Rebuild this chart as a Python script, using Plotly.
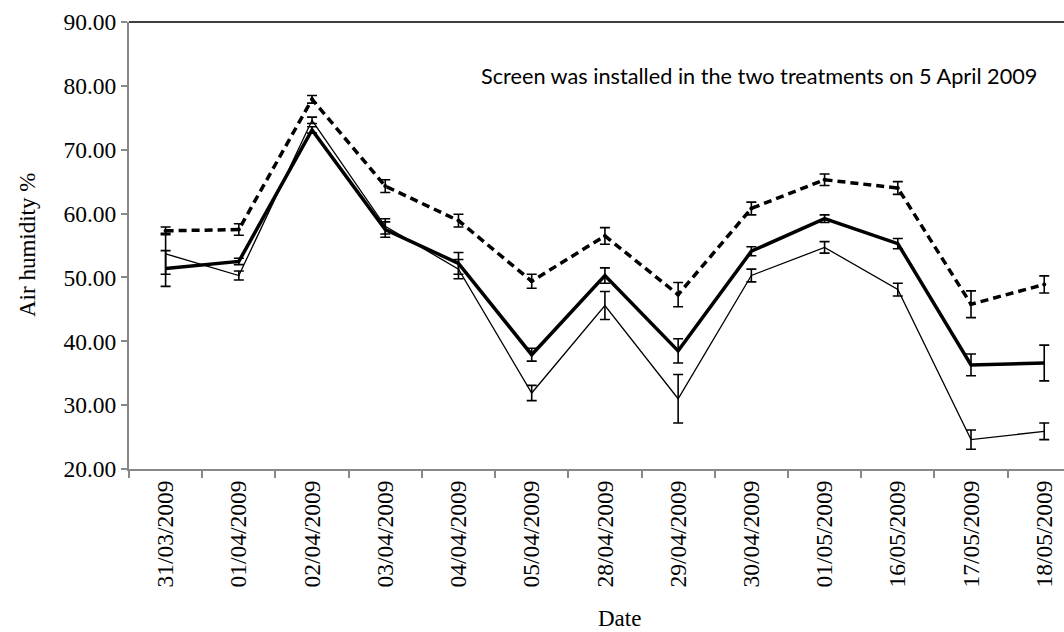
import plotly.graph_objects as go

# Sampling dates (categorical axis)
dates = ["31/03/2009", "01/04/2009", "02/04/2009", "03/04/2009", "04/04/2009",
         "05/04/2009", "28/04/2009", "29/04/2009", "30/04/2009", "01/05/2009",
         "16/05/2009", "17/05/2009", "18/05/2009"]

# Mean air humidity (%) and standard errors per series
dashed_vals = [57.3, 57.5, 77.9, 64.3, 58.9, 49.4, 56.5, 47.3, 60.8, 65.3, 64.0, 45.8, 48.9]
dashed_err = [0.6, 0.9, 0.6, 1.0, 1.0, 1.1, 1.3, 1.9, 1.0, 0.9, 1.0, 2.1, 1.35]

thick_vals = [51.4, 52.5, 73.1, 57.5, 52.2, 37.9, 50.3, 38.5, 54.1, 59.2, 55.3, 36.3, 36.6]
thick_err = [2.8, 0.5, 0.5, 1.2, 1.7, 1.0, 1.2, 1.9, 0.7, 0.6, 0.8, 1.7, 2.8]

thin_vals = [53.7, 50.3, 74.6, 58.0, 51.3, 31.9, 45.6, 31.0, 50.3, 54.7, 48.1, 24.6, 25.9]
thin_err = [3.2, 0.7, 0.5, 1.2, 1.5, 1.2, 2.2, 3.8, 1.0, 0.9, 1.0, 1.5, 1.3]

W, H = 1064, 632
L, T, B = 129, 22, 163
plot_w = W - L
plot_h = H - T - B


def px_x(px):
    return (px - L) / plot_w


def px_y(py):
    return (H - B - py) / plot_h


def err(vals):
    return dict(type="data", array=vals, visible=True, color="black",
                thickness=1.6, width=5)


fig = go.Figure()

fig.add_trace(go.Scatter(
    x=dates, y=thin_vals, name="Series 3", mode="lines",
    line=dict(color="black", width=1.3),
    error_y=err(thin_err),
))
fig.add_trace(go.Scatter(
    x=dates, y=thick_vals, name="Series 2", mode="lines",
    line=dict(color="black", width=3.5),
    error_y=err(thick_err),
))
fig.add_trace(go.Scatter(
    x=dates, y=dashed_vals, name="Series 1", mode="lines+markers",
    line=dict(color="black", width=3.5, dash="8px,5px"),
    marker=dict(color="black", size=4),
    error_y=err(dashed_err),
))

serif = "Liberation Serif, Times New Roman, serif"

fig.update_layout(
    width=W, height=H,
    margin=dict(l=L, r=0, t=T, b=B),
    paper_bgcolor="white", plot_bgcolor="white",
    showlegend=False,
    font=dict(family=serif, size=23.5, color="black"),
    xaxis=dict(
        type="category", range=[-0.5, 12.27],
        tickangle=-90, tickson="boundaries",
        ticks="outside", ticklen=7, tickcolor="#888888", tickwidth=1.5,
        showline=True, linecolor="#888888", linewidth=2,
        showgrid=False, zeroline=False,
        tickfont=dict(family=serif, size=23.5),
    ),
    yaxis=dict(
        range=[20, 90], dtick=10, tickformat=".2f",
        ticks="outside", ticklen=6, tickcolor="#888888", tickwidth=1.5,
        showline=True, linecolor="#888888", linewidth=2,
        showgrid=False, zeroline=False,
        tickfont=dict(family=serif, size=23.5),
    ),
    shapes=[dict(type="line", xref="paper", yref="paper",
                 x0=0, x1=1, y0=1, y1=1,
                 line=dict(color="black", width=1.5))],
    annotations=[
        dict(text="Screen was installed in the two treatments on 5 April 2009",
             xref="paper", yref="paper", x=px_x(479), y=px_y(76),
             xanchor="left", yanchor="middle", showarrow=False,
             font=dict(family="Lato, Open Sans, sans-serif", size=21.7, color="black")),
        dict(text="Air humidity %", textangle=-90,
             xref="paper", yref="paper", x=px_x(27), y=px_y(245),
             xanchor="center", yanchor="middle", showarrow=False,
             font=dict(family=serif, size=23)),
        dict(text="Date",
             xref="paper", yref="paper", x=px_x(619), y=px_y(618),
             xanchor="center", yanchor="middle", showarrow=False,
             font=dict(family=serif, size=23)),
    ],
)

fig.write_html("out.html")
